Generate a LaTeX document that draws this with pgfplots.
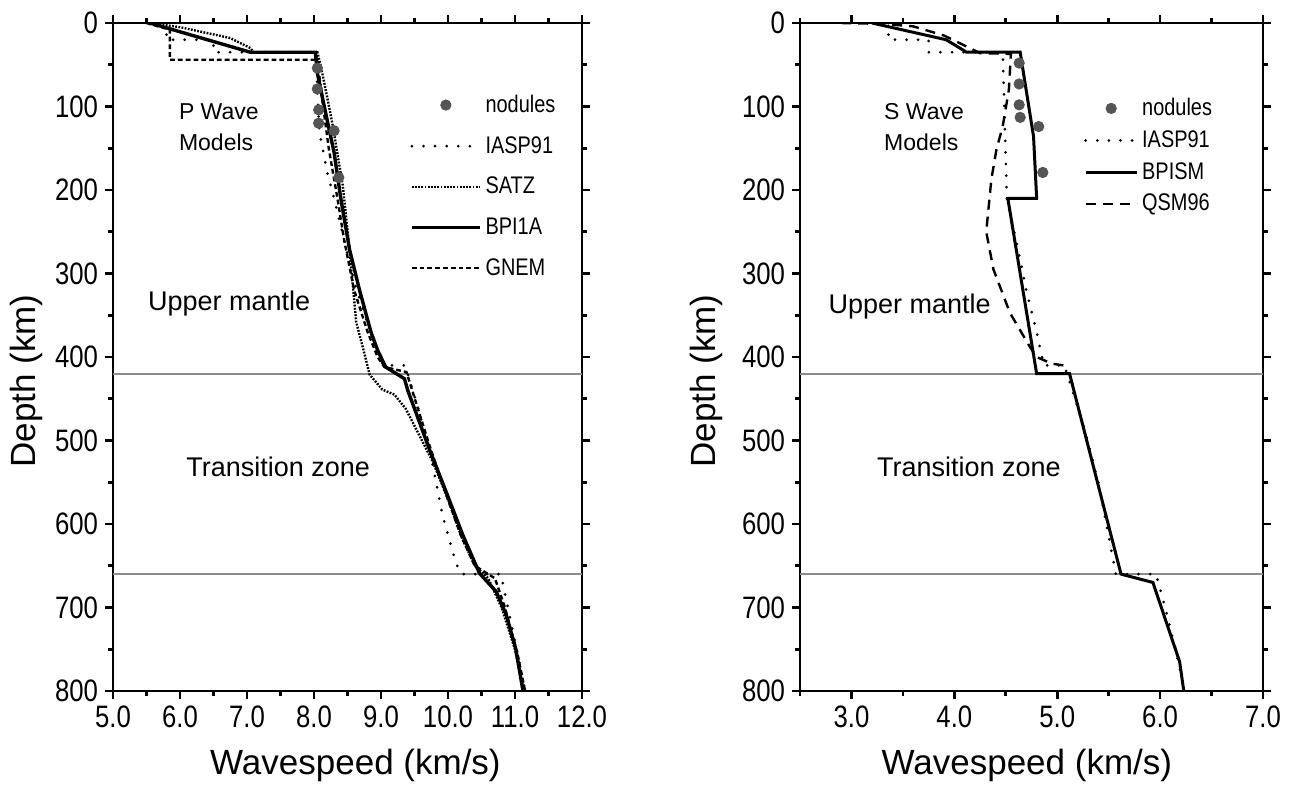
\documentclass[border=0pt]{standalone}
\usepackage{fontspec}
\setmainfont{Liberation Sans}
\newfontfamily\narrow[FakeStretch=0.83]{Liberation Sans}
\usepackage{pgfplots}
\pgfplotsset{compat=1.18}
\definecolor{nodgray}{HTML}{555555}
\definecolor{linegray}{HTML}{8C8C8C}

\pgfplotsset{
  wavestyle/.style={
    scale only axis, anchor=south west, height=334pt,
    ymin=0, ymax=800, y dir=reverse,
    ytick={0,100,...,800}, minor ytick={50,150,...,750},
    tick align=outside, tick pos=both,
    major tick length=4pt, minor tick length=2.5pt,
    axis line style={line width=1.3pt},
    every tick/.style={line width=1.3pt, black},
    /pgf/number format/assume math mode=true,
    tick label style={font=\narrow\fontsize{15.5}{15.5}\selectfont},
    xticklabel style={/pgf/number format/.cd, fixed, fixed zerofill, precision=1},
    xlabel={Wavespeed (km/s)},
    ylabel={Depth (km)},
    legend cell align=left,
    legend style={draw=none, fill=none, font=\narrow\fontsize{12}{12}\selectfont, anchor=north west},
  },
}

\begin{document}
\begin{tikzpicture}
\path[use as bounding box] (0,0) rectangle (645.5pt,394.5pt);

% P wave panel
\begin{axis}[wavestyle, at={(56.5pt,49pt)}, width=234.5pt,
  xmin=5, xmax=12, xtick={5,...,12}, minor xtick={5.5,6.5,...,11.5},
  every axis x label/.style={at={(axis description cs:0.517,-0.112)}, anchor=center, font=\fontsize{17.5}{17.5}\selectfont},
  every axis y label/.style={at={(axis description cs:-0.185,0.464)}, anchor=center, rotate=90, font=\fontsize{17.5}{17.5}\selectfont},
  legend style={at={(0.62,0.905)}, row sep=6.5pt},
  legend image code/.code={\draw[mark repeat=2,mark phase=2,#1] plot coordinates {(0pt,0pt)(17pt,0pt)(34pt,0pt)};},
]
\addplot[forget plot, linegray, line width=1pt] coordinates {(5,420)(12,420)};
\addplot[forget plot, linegray, line width=1pt] coordinates {(5,660)(12,660)};
\addplot[only marks, mark=*, mark size=2.6pt, nodgray] coordinates {
  (8.05,54)(8.05,79)(8.07,104)(8.07,120)(8.30,129)(8.37,185)};
\addplot[line width=1.5pt, dash pattern=on 0pt off 5.8pt, line cap=round] coordinates {
  (5.8,0)(5.8,20)(6.5,20)(6.5,35)(8.04,35)(8.05,80)(8.08,130)(8.2,180)(8.3,210)
  (8.45,260)(8.6,310)(8.8,360)(9.03,410)(9.36,410)(9.55,460)(9.75,520)(9.92,590)
  (10.12,647)(10.2,660)(10.79,660)(10.92,710)(11.05,760)(11.15,800)};
\addplot[line width=1.2pt, dash pattern=on 0.9pt off 0.7pt] coordinates {
  (5.55,0)(6.0,5)(6.75,18)(7.05,30)(7.1,35)(8.05,35)(8.1,51)(8.2,90)(8.28,123)
  (8.43,195)(8.53,271)(8.63,358)(8.75,395)(8.83,421)(9.02,439)(9.20,445)(9.37,462)
  (9.77,525)(10.0,570)(10.2,615)(10.4,650)(10.6,665)(10.8,700)(11.0,750)(11.13,800)};
\addplot[line width=1.7pt] coordinates {
  (5.55,0)(7.05,35)(8.02,35)(8.05,60)(8.18,110)(8.30,155)(8.40,210)(8.53,271)
  (8.68,320)(8.85,370)(8.95,392)(9.07,412)(9.35,426)(9.4,440)(9.72,510)(9.97,561)
  (10.22,613)(10.47,659)(10.72,681)(10.87,709)(11.01,749)(11.12,800)};
\addplot[line width=1.2pt, dash pattern=on 2.4pt off 1.5pt] coordinates {
  (5.5,0)(5.85,8)(5.85,44)(8.05,44)(8.12,90)(8.22,150)(8.35,210)(8.45,260)(8.6,320)
  (8.8,370)(8.95,400)(9.05,412)(9.38,418)(9.7,500)(9.95,560)(10.2,615)(10.4,650)
  (10.7,665)(10.85,700)(11.05,760)(11.15,800)};
\legend{nodules, IASP91, SATZ, BPI1A, GNEM}
\node[anchor=west, align=left, font=\fontsize{11.5}{15.5}\selectfont] at (axis cs:5.88,125) {P Wave\\Models};
\node[anchor=west, font=\fontsize{13.5}{13.5}\selectfont] at (axis cs:5.42,336) {Upper mantle};
\node[anchor=west, font=\fontsize{13.5}{13.5}\selectfont] at (axis cs:5.99,532) {Transition zone};
\end{axis}

% S wave panel
\begin{axis}[wavestyle, at={(400pt,49pt)}, width=231.5pt,
  xmin=2.5, xmax=7, xtick={3,...,7}, minor xtick={2.5,3.5,...,6.5},
  every axis x label/.style={at={(axis description cs:0.49,-0.112)}, anchor=center, font=\fontsize{17.5}{17.5}\selectfont},
  every axis y label/.style={at={(axis description cs:-0.203,0.464)}, anchor=center, rotate=90, font=\fontsize{17.5}{17.5}\selectfont},
  legend style={at={(0.60,0.90)}, row sep=2pt},
  legend image code/.code={\draw[mark repeat=2,mark phase=2,#1] plot coordinates {(0pt,0pt)(12.75pt,0pt)(25.5pt,0pt)};},
]
\addplot[forget plot, linegray, line width=1pt] coordinates {(2.5,420)(7,420)};
\addplot[forget plot, linegray, line width=1pt] coordinates {(2.5,660)(7,660)};
\addplot[only marks, mark=*, mark size=2.6pt, nodgray] coordinates {
  (4.63,48)(4.63,73)(4.63,98)(4.64,113)(4.82,124)(4.86,179)};
\addplot[line width=1.5pt, dash pattern=on 0pt off 5.8pt, line cap=round] coordinates {
  (3.36,0)(3.36,20)(3.75,20)(3.75,35)(4.47,35)(4.49,120)(4.51,210)(4.60,260)(4.70,320)
  (4.80,370)(4.87,410)(5.07,410)(5.25,480)(5.40,550)(5.57,660)(5.96,660)(6.05,700)
  (6.15,750)(6.24,800)};
\addplot[line width=1.5pt] coordinates {
  (3.2,0)(3.92,20)(4.12,35)(4.64,35)(4.77,136)(4.80,210)(4.52,210)(4.80,420)(5.12,420)
  (5.62,660)(5.93,670)(6.19,765)(6.23,800)};
\addplot[line width=1.2pt, dash pattern=on 5pt off 3.5pt] coordinates {
  (2.9,0)(3.3,1)(3.6,4)(3.9,15)(4.15,30)(4.25,36)(4.55,37)(4.53,80)(4.47,124)(4.41,151)
  (4.36,187)(4.31,250)(4.38,295)(4.54,347)(4.73,387)(4.80,400)(4.95,408)(5.06,410)};
\legend{nodules, IASP91, BPISM, QSM96}
\node[anchor=west, align=left, font=\fontsize{11.5}{15.5}\selectfont] at (axis cs:3.25,125) {S Wave\\Models};
\node[anchor=west, font=\fontsize{13.5}{13.5}\selectfont] at (axis cs:2.71,339) {Upper mantle};
\node[anchor=west, font=\fontsize{13.5}{13.5}\selectfont] at (axis cs:3.18,532) {Transition zone};
\end{axis}
\end{tikzpicture}
\end{document}
